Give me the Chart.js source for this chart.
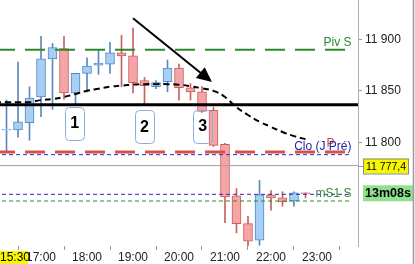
<!DOCTYPE html>
<html>
<head>
<meta charset="utf-8">
<script src="https://cdn.jsdelivr.net/npm/chart.js@4.4.1/dist/chart.umd.min.js"></script>
<style>
html,body{margin:0;padding:0;background:#fff}
</style>
</head>
<body>
<canvas id="chart" width="415" height="264"></canvas>
<script>
// 15 min candles
const times  = ['16:15','16:30','16:45','17:00','17:15','17:30','17:45','18:00','18:15','18:30','18:45','19:00','19:15','19:30','19:45','20:00','20:15','20:30','20:45','21:00','21:15','21:30','21:45','22:00','22:15','22:30','22:45']
const opens  = [11812,11812,11819,11844,11881,11891,11848,11867,11875,11876,11887,11884,11860,11854,11859,11872,11853,11849,11831,11798,11748,11721,11705,11749,11746,11743,11751]
const highs  = [11841,11878,11854,11903,11896,11903,11867,11882,11890,11897,11904,11911,11863,11860,11880,11876,11857,11854,11834,11799,11755,11728,11763,11753,11752,11752,11751]
const lows   = [11790,11805,11802,11825,11832,11842,11836,11849,11866,11867,11854,11848,11836,11852,11849,11841,11841,11829,11796,11722,11712,11699.5,11700,11734,11738,11738,11746]
const closes = [11812.5,11820,11843,11881,11892,11848,11867,11874,11877,11887,11884,11858,11855,11858,11872,11853,11849,11830,11797,11747,11721,11704,11749,11746,11742,11751,11750]

// moyenne mobile (pointillés)
const maTimes  = ['16:00','16:15','16:30','16:45','17:00','17:15','17:30','17:45','18:00','18:15','18:30','18:45','19:00','19:15','19:30','19:45','20:00','20:15','20:30','20:45','21:00','21:15','21:30','21:45','22:00','22:15','22:30','22:45']
const maValues = [11839,11839,11839,11839,11841,11842,11844,11847,11850,11852,11854,11855,11856,11856.5,11856.5,11856.5,11856,11854.5,11852.5,11850,11844,11834,11826.5,11820,11815,11810,11806,11803]

// niveaux
const pivS = 11890
const support = 11836.5
const cloJPre = 11790.5
const cloDot = 11788
const mS1 = 11749.5
const mS1b = 11743
const lastPrice = 11777.4
const timerText = '13m08s'
const startLabel = '15:30'

const hourTicks = ['17:00','18:00','19:00','20:00','21:00','22:00','23:00']
const priceTicks = [11800, 11850, 11900]

const arrowFrom = ['19:00', 11920.5]
const arrowTo = ['20:43', 11858.5]
const boxLabels = ['1','2','3']
const boxTimes = ['17:44','19:15','20:31']
const boxPrices = [11818.7, 11815.3, 11815.8]

const toMin = s => parseInt(s.substr(0,2))*60 + parseInt(s.substr(3,2))
const fmtPrice = v => String(v).replace('.', ',').replace(/\B(?=(\d{3})+(?!\d))/g, ' ')
const FONT = '"Liberation Sans", Arial, sans-serif'
const lineEnd = '23:45'

const up = i => closes[i] >= opens[i]
const level = (v, end) => [{x: 960, y: v}, {x: toMin(end), y: v}]
const noPad = s => { s.paddingTop = 0; s.paddingBottom = 0; s.paddingLeft = 0; s.paddingRight = 0 }

const overlay = {
  id: 'overlay',
  afterDatasetsDraw(chart) {
    const {ctx, scales: {x, y}, chartArea: a} = chart
    ctx.save()
    // fleche
    const x1 = x.getPixelForValue(toMin(arrowFrom[0])), y1 = y.getPixelForValue(arrowFrom[1])
    const x2 = x.getPixelForValue(toMin(arrowTo[0])), y2 = y.getPixelForValue(arrowTo[1])
    const ang = Math.atan2(y2 - y1, x2 - x1)
    ctx.strokeStyle = '#000'
    ctx.lineWidth = 2
    ctx.beginPath()
    ctx.moveTo(x1, y1)
    ctx.lineTo(x2 - 10*Math.cos(ang), y2 - 10*Math.sin(ang))
    ctx.stroke()
    ctx.fillStyle = '#000'
    ctx.beginPath()
    ctx.moveTo(x2, y2)
    ctx.lineTo(x2 - 15*Math.cos(ang) + 7*Math.sin(ang), y2 - 15*Math.sin(ang) - 7*Math.cos(ang))
    ctx.lineTo(x2 - 15*Math.cos(ang) - 7*Math.sin(ang), y2 - 15*Math.sin(ang) + 7*Math.cos(ang))
    ctx.closePath()
    ctx.fill()

    // boites numerotees
    ctx.lineWidth = 1
    ctx.strokeStyle = '#8aaedb'
    ctx.textAlign = 'center'
    ctx.textBaseline = 'middle'
    ctx.font = 'bold 16px ' + FONT
    for (let i = 0; i < boxLabels.length; i++) {
      const cx = x.getPixelForValue(toMin(boxTimes[i])), cy = y.getPixelForValue(boxPrices[i])
      ctx.beginPath()
      ctx.roundRect(Math.round(cx - 9.5) + 0.5, Math.round(cy - 16.5) + 0.5, 19, 33, 4)
      ctx.stroke()
      ctx.fillStyle = '#000'
      ctx.fillText(boxLabels[i], cx, cy + 1)
    }

    // libelles des niveaux
    const xr = x.getPixelForValue(toMin(lineEnd))
    ctx.font = '12px ' + FONT
    ctx.textAlign = 'right'
    ctx.textBaseline = 'bottom'
    ctx.fillStyle = '#2a8a2a'
    ctx.fillText('Piv S', xr, y.getPixelForValue(pivS) - 0.5)
    ctx.fillStyle = '#d04848'
    ctx.fillText('P', xr - 17, y.getPixelForValue(cloJPre) - 2)
    ctx.fillStyle = '#2424a8'
    ctx.fillText('Clo (J Pré)', xr, y.getPixelForValue(cloJPre) + 1)
    ctx.textBaseline = 'middle'
    ctx.fillStyle = '#3a8a3a'
    ctx.fillText('mS1 S', xr, y.getPixelForValue(mS1) - 1)

    // dernier cours
    const yl = Math.round(y.getPixelForValue(lastPrice)) + 0.5
    ctx.strokeStyle = '#999'
    ctx.beginPath()
    ctx.moveTo(a.right, yl)
    ctx.lineTo(a.right + 5, yl)
    ctx.stroke()
    ctx.fillStyle = '#f7f700'
    ctx.fillRect(a.right + 5, yl - 8, 45, 15)
    ctx.strokeStyle = '#8a8a8a'
    ctx.strokeRect(a.right + 5.5, yl - 7.5, 45, 15)
    ctx.fillStyle = '#000'
    ctx.textAlign = 'left'
    ctx.font = '10.5px ' + FONT
    ctx.fillText(fmtPrice(lastPrice), a.right + 8, yl + 0.5)

    // minuteur
    const yt = y.getPixelForValue(mS1) - 1
    ctx.fillStyle = '#8fe08f'
    ctx.fillRect(a.right + 5, yt - 8, 50, 16)
    ctx.fillStyle = '#000'
    ctx.font = 'bold 12.5px ' + FONT
    ctx.fillText(timerText, a.right + 7, yt + 0.5)

    // heure de debut
    ctx.fillStyle = '#f7f700'
    ctx.fillRect(a.left, a.bottom + 5, 28, 13)
    ctx.fillStyle = '#000'
    ctx.font = '12px ' + FONT
    ctx.fillText(startLabel, a.left, a.bottom + 12)

    // bord droit
    ctx.strokeStyle = '#9a9a9a'
    ctx.lineWidth = 1.5
    ctx.beginPath()
    ctx.moveTo(413.5, 0)
    ctx.lineTo(413.5, chart.height)
    ctx.stroke()
    ctx.restore()
  }
}

new Chart(document.getElementById('chart'), {
  type: 'bar',
  data: {
    datasets: [
      {
        type: 'line',
        data: maTimes.map((t, i) => ({x: toMin(t), y: maValues[i]})),
        borderColor: '#000', borderWidth: 2, borderDash: [6, 4],
        pointRadius: 0, tension: 0.4, order: 0
      },
      {
        type: 'line', data: level(support, '23:55'),
        borderColor: '#000', borderWidth: 3, pointRadius: 0, order: 0
      },
      {
        type: 'line', data: level(pivS, lineEnd),
        borderColor: '#2a8a2a', borderWidth: 2, borderDash: [20, 10], pointRadius: 0, order: 0
      },
      {
        type: 'line', data: level(cloJPre, lineEnd),
        borderColor: '#d45050', borderWidth: 3, borderDash: [20, 10], pointRadius: 0, order: 0
      },
      {
        type: 'line', data: level(cloDot, lineEnd),
        borderColor: '#2a2ab0', borderWidth: 1, borderDash: [4, 3], pointRadius: 0, order: 0
      },
      {
        type: 'line', data: level(lastPrice, '23:55'),
        borderColor: '#a0a0a0', borderWidth: 1, pointRadius: 0, order: 0
      },
      {
        type: 'line', data: level(mS1, lineEnd),
        borderColor: '#2a2ab0', borderWidth: 1, borderDash: [4, 3], pointRadius: 0, order: 0
      },
      {
        type: 'line', data: level(mS1b, lineEnd),
        borderColor: '#2a8a2a', borderWidth: 1, borderDash: [4, 3], pointRadius: 0, order: 0
      },
      {
        data: times.map((t, i) => ({x: toMin(t), y: [opens[i], closes[i]]})),
        backgroundColor: times.map((t, i) => up(i) ? '#a6cff3' : '#f5a5a5'),
        borderColor: times.map((t, i) => up(i) ? '#4f88cc' : '#d05a5a'),
        borderWidth: 1, borderSkipped: false, barThickness: 9, grouped: false, order: 1
      },
      {
        data: times.map((t, i) => ({x: toMin(t), y: [lows[i], highs[i]]})),
        backgroundColor: times.map((t, i) => up(i) ? '#5d88bd' : '#c86060'),
        borderWidth: 0, barThickness: 1, grouped: false, order: 2
      }
    ]
  },
  options: {
    responsive: false,
    animation: false,
    devicePixelRatio: 1,
    layout: {padding: 0, autoPadding: false},
    plugins: {legend: {display: false}, tooltip: {enabled: false}},
    scales: {
      x: {
        type: 'linear', min: 966.5, max: 1433.5, offset: false,
        afterBuildTicks: s => { s.ticks = hourTicks.map(h => ({value: toMin(h)})) },
        afterFit: s => { s.height = 18; noPad(s) },
        grid: {drawOnChartArea: false, drawTicks: true, tickLength: 4, color: '#999'},
        border: {display: false},
        ticks: {
          font: {family: FONT, size: 12}, color: '#222', padding: 0, maxRotation: 0,
          callback: v => String(Math.floor(v/60)).padStart(2, '0') + ':' + String(v % 60).padStart(2, '0')
        }
      },
      y: {
        position: 'right', min: 11699.3, max: 11938.2,
        afterBuildTicks: s => { s.ticks = priceTicks.map(v => ({value: v})) },
        afterFit: s => { s.width = 57; noPad(s) },
        grid: {drawOnChartArea: false, drawTicks: true, tickLength: 4, color: '#999'},
        border: {display: true, color: '#b0b0b0'},
        ticks: {font: {family: FONT, size: 12}, color: '#222', padding: 3, callback: v => fmtPrice(v)}
      }
    }
  },
  plugins: [overlay]
})
</script>
</body>
</html>
